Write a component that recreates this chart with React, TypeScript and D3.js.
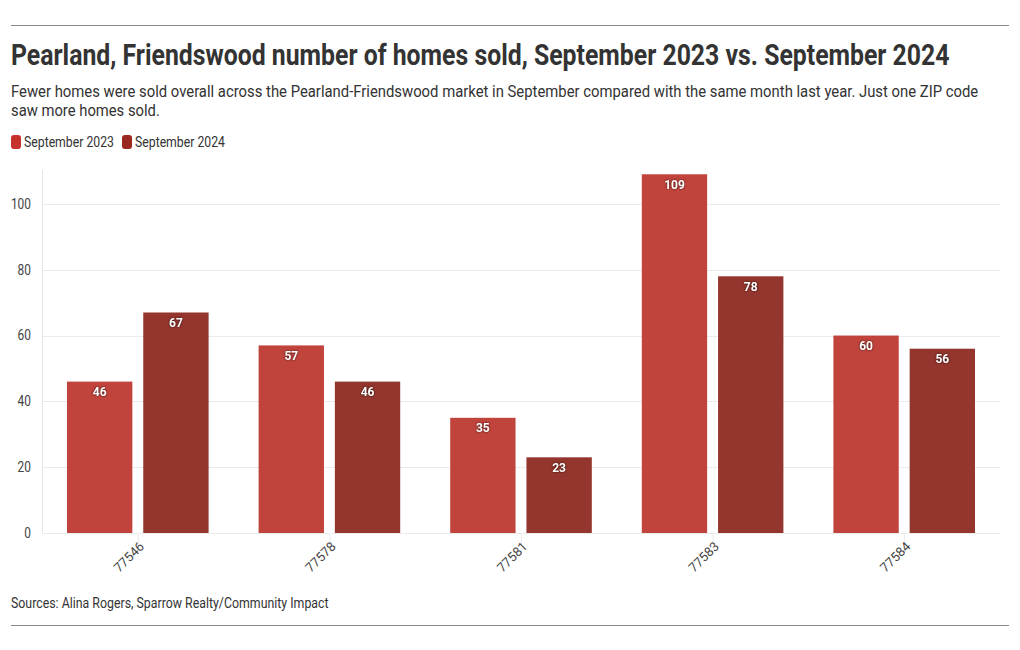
import React, { useEffect, useRef } from "react";
import * as d3 from "d3";

const zipCodes = ["77546", "77578", "77581", "77583", "77584"];
const sept2023 = [46, 57, 35, 109, 60];
const sept2024 = [67, 46, 23, 78, 56];
const seriesNames = ["September 2023", "September 2024"];
const yTicks = [0, 20, 40, 60, 80, 100];

const barColors = ["#c0443c", "#94362d"];
const legendColors = ["#c8302c", "#9a2720"];
const FONT = "Roboto, 'Noto Sans', sans-serif";

type Sel = d3.Selection<SVGSVGElement, unknown, null, undefined>;

// draw text at natural size then squeeze it horizontally to a target width (condensed look)
function fitText(svg: Sel, x: number, y: number, width: number, size: number, weight: number, str: string) {
  const t = svg.append("text").attr("x", 0).attr("y", 0)
    .attr("font-family", FONT).attr("font-weight", weight).attr("font-size", size)
    .attr("fill", "#333").text(str);
  const natural = (t.node() as SVGTextElement).getComputedTextLength() || width;
  t.attr("transform", `translate(${x},${y}) scale(${width / natural},1)`);
  return t;
}

function drawChart(el: SVGSVGElement) {
  const svg = d3.select(el);
  svg.selectAll("*").remove();

  // rules
  svg.append("line").attr("x1", 11).attr("x2", 1009).attr("y1", 25.5).attr("y2", 25.5)
    .attr("stroke", "#8a8a8a").attr("stroke-width", 1);
  svg.append("line").attr("x1", 11).attr("x2", 1009).attr("y1", 625.5).attr("y2", 625.5)
    .attr("stroke", "#8a8a8a").attr("stroke-width", 1);

  // title + subtitle
  fitText(svg, 11, 65, 939, 30, 700, "Pearland, Friendswood number of homes sold, September 2023 vs. September 2024");
  fitText(svg, 11, 97, 968, 16.5, 400, "Fewer homes were sold overall across the Pearland-Friendswood market in September compared with the same month last year. Just one ZIP code");
  fitText(svg, 11, 116, 149, 16.5, 400, "saw more homes sold.");

  // legend
  const legendX = [11, 122];
  seriesNames.forEach((name, i) => {
    svg.append("rect").attr("x", legendX[i]).attr("y", 135).attr("width", 10).attr("height", 14)
      .attr("rx", 3).attr("fill", legendColors[i]);
    fitText(svg, legendX[i] + 13, 147, 90, 14, 400, name);
  });

  // scales
  const x0 = d3.scaleBand().domain(zipCodes).range([42, 1000]).paddingInner(0).paddingOuter(0);
  const x1 = d3.scaleBand().domain(seriesNames).range([25, x0.bandwidth() - 25]).paddingInner(0.143);
  const y = d3.scaleLinear().domain([0, 110.3]).range([533, 170]);

  // grid
  const grid = svg.append("g");
  yTicks.forEach((t) => {
    grid.append("line").attr("x1", 42).attr("x2", 1000)
      .attr("y1", Math.round(y(t)) + 0.5).attr("y2", Math.round(y(t)) + 0.5)
      .attr("stroke", "#ebebeb").attr("stroke-width", 1);
    grid.append("text").attr("x", 31).attr("y", y(t)).attr("dy", "0.35em")
      .attr("text-anchor", "end").attr("font-family", FONT).attr("font-size", 14)
      .attr("fill", "#444").attr("transform", `translate(31,0) scale(0.85,1) translate(-31,0)`)
      .text(String(t));
  });
  svg.append("line").attr("x1", 42.5).attr("x2", 42.5).attr("y1", 170).attr("y2", 533)
    .attr("stroke", "#e6e6e6");

  // bars
  const series = [sept2023, sept2024];
  zipCodes.forEach((zip, i) => {
    const gx = x0(zip)!;
    series.forEach((vals, s) => {
      const bx = gx + x1(seriesNames[s])!;
      const v = vals[i];
      svg.append("rect").attr("x", bx).attr("y", y(v)).attr("width", x1.bandwidth())
        .attr("height", y(0) - y(v)).attr("fill", barColors[s]);
      svg.append("text").attr("x", bx + x1.bandwidth() / 2).attr("y", y(v) + 14.5)
        .attr("text-anchor", "middle").attr("font-family", FONT).attr("font-weight", 700)
        .attr("font-size", 12).attr("fill", "#fff")
        .style("filter", "drop-shadow(0px 0px 1px rgba(0,0,0,0.7))")
        .text(String(v));
    });
    const cx = gx + x0.bandwidth() / 2;
    svg.append("line").attr("x1", cx + 0.5).attr("x2", cx + 0.5).attr("y1", 533).attr("y2", 545)
      .attr("stroke", "#ebebeb");
    svg.append("text")
      .attr("transform", `translate(${cx + 4},${544}) rotate(-45)`)
      .attr("text-anchor", "end").attr("dy", "0.35em")
      .attr("font-family", FONT).attr("font-size", 13).attr("fill", "#444")
      .text(zip);
  });

  // source
  fitText(svg, 11, 608, 318, 14, 400, "Sources: Alina Rogers, Sparrow Realty/Community Impact");
}

export default function App() {
  const ref = useRef<SVGSVGElement>(null);
  useEffect(() => {
    if (ref.current) drawChart(ref.current);
  }, []);
  return (
    <svg
      ref={ref}
      width={1020}
      height={650}
      style={{ position: "absolute", left: 0, top: 0, background: "#fff" }}
    />
  );
}
